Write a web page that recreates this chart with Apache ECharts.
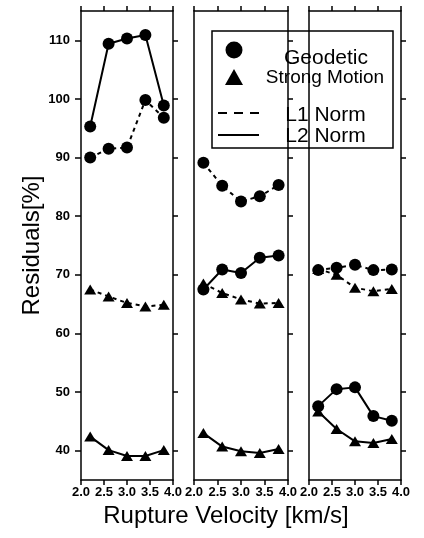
<!DOCTYPE html>
<html>
<head>
<meta charset="utf-8">
<title>Residuals vs Rupture Velocity</title>
<script src="https://cdn.jsdelivr.net/npm/echarts@6/dist/echarts.min.js"></script>
</head>
<body style="margin:0;background:#fff">
<div id="main" style="width:424px;height:538px"></div>
<script>
// rupture velocities tested (km/s)
var velocity = [2.2, 2.6, 3.0, 3.4, 3.8];
var yTicks = [40, 50, 60, 70, 80, 90, 100, 110];

// one row per panel (left, middle, right)
var geodeticL1 = [
    [90.0, 91.5, 91.7, 99.8, 96.8],
    [89.1, 85.2, 82.5, 83.4, 85.3],
    [70.8, 71.2, 71.7, 70.8, 70.9]
];
var geodeticL2 = [
    [95.3, 109.4, 110.3, 110.9, 98.9],
    [67.5, 70.9, 70.3, 72.9, 73.3],
    [47.6, 50.5, 50.8, 45.9, 45.1]
];
var strongL1 = [
    [67.5, 66.3, 65.2, 64.6, 64.9],
    [68.5, 66.9, 65.8, 65.1, 65.2],
    [71.0, 70.0, 67.8, 67.2, 67.6]
];
var strongL2 = [
    [42.4, 40.1, 39.1, 39.1, 40.1],
    [43.0, 40.7, 39.9, 39.6, 40.3],
    [46.7, 43.7, 41.6, 41.3, 42.0]
];
var legendNames = ['Geodetic', 'Strong Motion', 'L1 Norm', 'L2 Norm'];

var FONT = '"Liberation Sans", Arial, Helvetica, sans-serif';
var chart = echarts.init(document.getElementById('main'));

var panelLeft = [81, 194, 309];
var panelWidth = [92, 94, 92];

var grids = [], xAxes = [], yAxes = [], series = [];

function pairs(vals) {
    return velocity.map(function (v, i) { return [v, vals[i]]; });
}

panelLeft.forEach(function (left, p) {
    grids.push({ left: left, width: panelWidth[p], top: 11, height: 469, containLabel: false, outerBoundsMode: 'none' });

    var lineStyle = { color: '#000', width: 1.5 };
    // bottom axis with labels
    xAxes.push({
        type: 'value', gridIndex: p, position: 'bottom', min: 2, max: 4, interval: 0.5,
        axisLine: { lineStyle: lineStyle },
        axisTick: { length: 5, lineStyle: lineStyle },
        axisLabel: { color: '#000', fontSize: 13, fontFamily: FONT, fontWeight: 'bold', margin: 6,
            formatter: function (v) { return v.toFixed(1); }, showMinLabel: true, showMaxLabel: true },
        splitLine: { show: false },
        name: p === 1 ? 'Rupture Velocity [km/s]' : '',
        nameLocation: 'middle', nameGap: 18,
        nameTextStyle: { color: '#000', fontSize: 24, fontFamily: FONT, padding: [0, 30, 0, 0] }
    });
    // top frame axis
    xAxes.push({
        type: 'value', gridIndex: p, position: 'top', min: 2, max: 4, interval: 0.5,
        axisLine: { lineStyle: lineStyle },
        axisTick: { length: 5, lineStyle: lineStyle },
        axisLabel: { show: false }, splitLine: { show: false }
    });
    // left axis
    yAxes.push({
        type: 'value', gridIndex: p, position: 'left', min: 35, max: 115,
        axisLine: { show: true, lineStyle: lineStyle },
        axisTick: { show: p === 0, length: 6, lineStyle: lineStyle, customValues: yTicks },
        axisLabel: { show: p === 0, color: '#000', fontSize: 13, fontWeight: 'bold', fontFamily: FONT, margin: 11, customValues: yTicks },
        splitLine: { show: false },
        name: p === 0 ? 'Residuals[%]' : '',
        nameLocation: 'middle', nameGap: 37,
        nameTextStyle: { color: '#000', fontSize: 24, fontFamily: FONT }
    });
    // right frame axis
    yAxes.push({
        type: 'value', gridIndex: p, position: 'right', min: 35, max: 115,
        axisLine: { show: true, lineStyle: lineStyle },
        axisTick: { show: true, length: 5, lineStyle: lineStyle, customValues: yTicks },
        axisLabel: { show: false }, splitLine: { show: false }
    });

    var defs = [
        { vals: geodeticL1[p], symbol: 'circle', size: 12, dash: [4, 4] },
        { vals: geodeticL2[p], symbol: 'circle', size: 12, dash: 'solid' },
        { vals: strongL1[p], symbol: 'triangle', size: [12, 10], dash: [4, 4] },
        { vals: strongL2[p], symbol: 'triangle', size: [12, 10], dash: 'solid' }
    ];
    defs.forEach(function (d) {
        series.push({
            type: 'line', xAxisIndex: p * 2, yAxisIndex: p * 2,
            data: pairs(d.vals),
            symbol: d.symbol, symbolSize: d.size, showAllSymbol: true,
            itemStyle: { color: '#000' },
            lineStyle: { color: '#000', width: 2, type: d.dash },
            animation: false, silent: true
        });
    });
});

var legendFont = function (size) {
    return { fill: '#000', fontSize: size, fontFamily: FONT, align: 'center', verticalAlign: 'middle' };
};

var option = {
    backgroundColor: '#fff',
    animation: false,
    grid: grids,
    xAxis: xAxes,
    yAxis: yAxes,
    series: series,
    graphic: [{
        type: 'group', x: 212, y: 31, z: 100,
        children: [
            { type: 'rect', shape: { x: 0, y: 0, width: 181, height: 117 },
              style: { fill: '#fff', stroke: '#000', lineWidth: 1.5 } },
            { type: 'circle', shape: { cx: 22, cy: 19, r: 8.5 }, style: { fill: '#000' } },
            { type: 'polygon', shape: { points: [[13, 54], [31, 54], [22, 38]] }, style: { fill: '#000' } },
            { type: 'line', shape: { x1: 6, y1: 82, x2: 47, y2: 82 },
              style: { stroke: '#000', lineWidth: 2, lineDash: [9, 7] } },
            { type: 'line', shape: { x1: 6, y1: 104, x2: 47, y2: 104 },
              style: { stroke: '#000', lineWidth: 2 } },
            { type: 'text', x: 114, y: 27.5, style: Object.assign({ text: legendNames[0] }, legendFont(21)) },
            { type: 'text', x: 113, y: 46.5, style: Object.assign({ text: legendNames[1] }, legendFont(19)) },
            { type: 'text', x: 113.5, y: 84, style: Object.assign({ text: legendNames[2] }, legendFont(21)) },
            { type: 'text', x: 113.5, y: 105, style: Object.assign({ text: legendNames[3] }, legendFont(21)) }
        ]
    }]
};

chart.setOption(option);
</script>
</body>
</html>
